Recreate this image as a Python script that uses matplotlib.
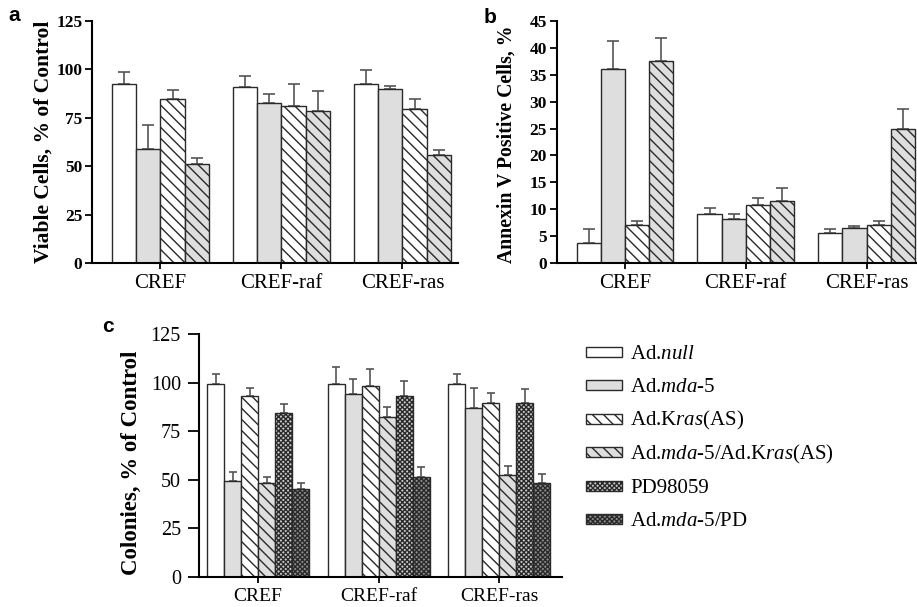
import numpy as np
import matplotlib
matplotlib.use("Agg")
import matplotlib.pyplot as plt
from matplotlib.patches import Rectangle

plt.rcParams['font.family'] = ['Liberation Serif', 'DejaVu Serif']
plt.rcParams['mathtext.fontset'] = 'custom'
plt.rcParams['mathtext.rm'] = 'Liberation Serif'
plt.rcParams['mathtext.it'] = 'Liberation Serif:italic'
plt.rcParams['hatch.linewidth'] = 1.0

# groups (cell lines)
groups = ['CREF', 'CREF-raf', 'CREF-ras']

# panel a: viable cells, % of control  (null, mda-5, Kras(AS), mda-5/Kras(AS))
viable = [[92.3, 90.9, 92.3],
          [59.0, 82.8, 89.7],
          [84.9, 80.9, 79.4],
          [51.1, 78.5, 55.6]]
viable_err = [[6.3, 5.5, 7.4],
              [12.1, 4.3, 1.7],
              [4.3, 11.4, 5.3],
              [3.1, 10.3, 2.6]]

# panel b: annexin V positive cells, %
annexin = [[3.8, 9.2, 5.7],
           [36.1, 8.3, 6.5],
           [7.1, 10.8, 7.1],
           [37.5, 11.6, 24.9]]
annexin_err = [[2.5, 1.1, 0.7],
               [5.1, 0.9, 0.4],
               [0.8, 1.3, 0.8],
               [4.2, 2.3, 3.7]]

# panel c: colonies, % of control (six treatments)
colonies = [[99.2, 99.2, 99.2],
            [49.5, 94.4, 87.2],
            [93.2, 98.2, 89.4],
            [48.5, 82.5, 52.4],
            [84.4, 93.2, 89.4],
            [45.1, 51.4, 48.2]]
colonies_err = [[5.1, 8.8, 5.2],
                [4.3, 7.4, 10.0],
                [4.3, 9.1, 5.2],
                [3.1, 5.0, 4.8],
                [4.7, 7.9, 7.2],
                [3.4, 5.3, 4.6]]

labels = [r'Ad.$\mathit{null}$', r'Ad.$\mathit{mda}$-5', r'Ad.K$\mathit{ras}$(AS)',
          r'Ad.$\mathit{mda}$-5/Ad.K$\mathit{ras}$(AS)', 'PD98059', r'Ad.$\mathit{mda}$-5/PD']

# bar styles per treatment
faces = ['white', '#dedede', 'white', '#dedede', '#c8c8c8', '#8c8c8c']
hatches = [None, None, '\\\\\\', '\\\\\\', 'xxxxxxx', 'xxxxxxx']
edge = '#2a2a2a'

W, H = 917, 607


def draw_bars(ax, vals, errs, w, cap):
    n = len(vals)
    x = np.arange(len(groups))
    for i in range(n):
        pos = x + (i - (n - 1) / 2) * w
        ax.errorbar(pos, vals[i], yerr=[np.zeros(len(groups)), errs[i]], fmt='none',
                    ecolor='#555555', elinewidth=1.2, capsize=cap, capthick=1.2, zorder=1)
        ax.bar(pos, vals[i], w, color=faces[i], edgecolor=edge, linewidth=1.0,
               hatch=hatches[i], zorder=2)
    ax.set_xticks(x)
    ax.set_xticklabels(groups)
    for s in ['top', 'right']:
        ax.spines[s].set_visible(False)
    for s in ['left', 'bottom']:
        ax.spines[s].set_linewidth(1.5)


fig = plt.figure(figsize=(9.17, 6.07), dpi=100)

ax1 = fig.add_axes([0.1003, 0.5667, 0.3991, 0.3987])
draw_bars(ax1, viable, viable_err, 0.2, 4)
ax1.set_xlim(-0.566, 2.459)
ax1.set_ylim(0, 125)
ax1.set_yticks([0, 25, 50, 75, 100, 125])
ax1.tick_params(axis='y', length=5, width=1.3, pad=2, labelsize=12.5)
ax1.tick_params(axis='x', length=4, width=1.3, pad=4, labelsize=15)
for t in ax1.get_yticklabels():
    t.set_fontweight('bold')
ax1.set_ylabel('Viable Cells, % of Control', fontsize=15.5, fontweight='bold')
ax1.yaxis.set_label_coords(-0.106, 0.5)

ax2 = fig.add_axes([0.6071, 0.5662, 0.3929, 0.3997])
draw_bars(ax2, annexin, annexin_err, 0.2, 4)
ax2.set_xlim(-0.566, 2.418)
ax2.set_ylim(0, 45)
ax2.set_yticks(np.arange(0, 46, 5))
ax2.tick_params(axis='y', length=5, width=1.3, pad=2, labelsize=12.5)
ax2.tick_params(axis='x', length=4, width=1.3, pad=4, labelsize=15)
for t in ax2.get_yticklabels():
    t.set_fontweight('bold')
ax2.set_ylabel('Annexin V Positive Cells, %', fontsize=14.2, fontweight='bold')
ax2.yaxis.set_label_coords(-0.112, 0.49)

ax3 = fig.add_axes([0.2170, 0.0499, 0.3959, 0.3993])
draw_bars(ax3, colonies, colonies_err, 0.141, 3)
ax3.set_xlim(-0.49, 2.52)
ax3.set_ylim(0, 125)
ax3.set_yticks([0, 25, 50, 75, 100, 125])
ax3.tick_params(axis='y', length=8, width=1.3, pad=5, labelsize=14.5)
ax3.tick_params(axis='x', length=4, width=1.3, pad=4, labelsize=14)
ax3.set_ylabel('Colonies, % of Control', fontsize=16.5, fontweight='bold')
ax3.yaxis.set_label_coords(-0.157, 0.47)

# panel letters
for txt, xp, yp in [('a', 8, 21), ('b', 484, 23), ('c', 102, 332)]:
    fig.text(xp / W, 1 - yp / H, txt, fontsize=15, fontweight='bold',
             family='Liberation Sans', va='baseline', ha='left')

# legend, drawn row by row so the spacing stays even
row_y = 352
for i, lab in enumerate(labels):
    fig.add_artist(Rectangle((586 / W, 1 - (row_y + 5) / H), 36 / W, 10 / H,
                             transform=fig.transFigure, facecolor=faces[i],
                             edgecolor=edge, linewidth=1.0, hatch=hatches[i]))
    fig.text(630 / W, 1 - (row_y + 7) / H, lab, fontsize=15, va='baseline', ha='left')
    row_y += 33.4

fig.savefig('out.png', dpi=100)
